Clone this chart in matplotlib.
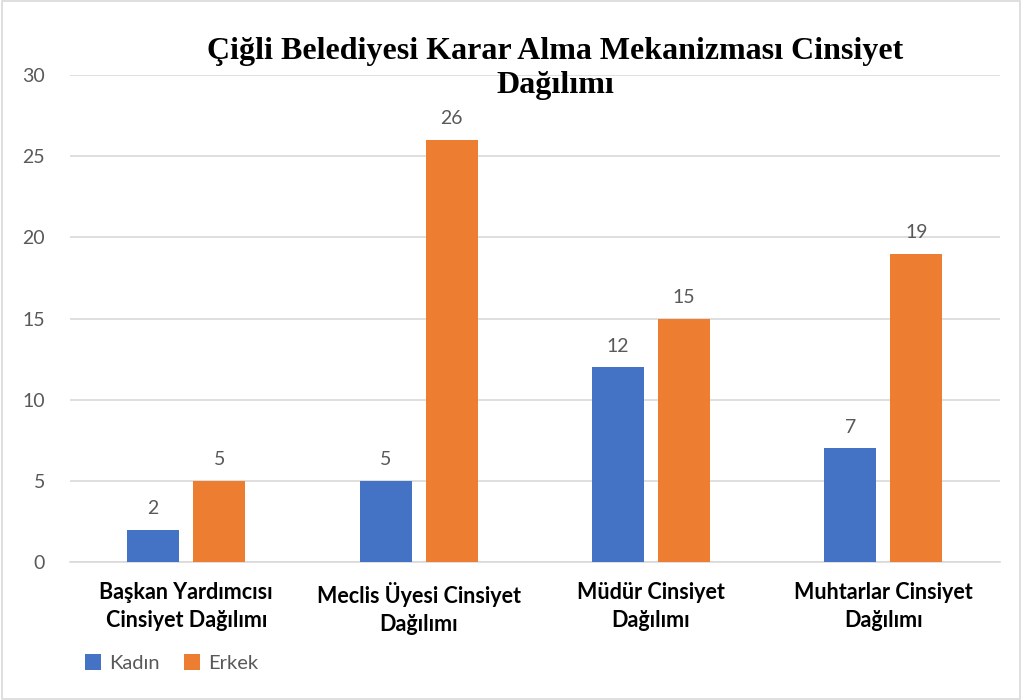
import matplotlib.pyplot as plt
import numpy as np
from matplotlib.patches import Rectangle

categories = ['Başkan Yardımcısı\nCinsiyet Dağılımı', 'Meclis Üyesi Cinsiyet\nDağılımı',
              'Müdür Cinsiyet\nDağılımı', 'Muhtarlar Cinsiyet\nDağılımı']
kadin = [2, 5, 12, 7]
erkek = [5, 26, 15, 19]
series_names = ['Kadın', 'Erkek']
title = 'Çiğli Belediyesi Karar Alma Mekanizması Cinsiyet\nDağılımı'

blue = '#4472C4'
orange = '#ED7D31'
gray = '#595959'

plt.rcParams['font.family'] = ['Lato', 'DejaVu Sans']

fig = plt.figure(figsize=(10.22, 7), dpi=100)
ax = fig.add_axes([0.0685, 0.197, 0.9095, 0.696])

x = np.arange(len(categories))
w = 0.224
off = 0.142
b1 = ax.bar(x - off, kadin, w, color=blue, label=series_names[0], zorder=3)
b2 = ax.bar(x + off, erkek, w, color=orange, label=series_names[1], zorder=3)

for bars in (b1, b2):
    for r in bars:
        ax.annotate(f'{int(r.get_height())}', (r.get_x() + r.get_width() / 2, r.get_height()),
                    xytext=(0, 9), textcoords='offset points', ha='center', va='bottom',
                    fontsize=14, color=gray)

ax.set_xlim(-0.5, 3.5)
ax.set_ylim(0, 30)
ax.set_yticks(range(0, 31, 5))
ax.yaxis.grid(True, color='#D9D9D9', linewidth=1.2, zorder=0)
for s in ['top', 'right', 'left']:
    ax.spines[s].set_visible(False)
ax.spines['bottom'].set_color('#D9D9D9')
ax.spines['bottom'].set_linewidth(1.2)
ax.tick_params(axis='both', length=0)
ax.tick_params(axis='y', labelsize=14, labelcolor=gray, pad=18)
ax.set_xticks(x)
ax.set_xticklabels(categories, fontsize=15.5, fontweight='bold', color='black', linespacing=1.45)
ax.tick_params(axis='x', pad=14)

fig.text(0.543, 0.902, title, ha='center', va='center', fontsize=23, fontweight='bold',
         family=['Liberation Serif'], linespacing=1.2)

ax.legend(loc='lower left', bbox_to_anchor=(0.065, 0.014), bbox_transform=fig.transFigure,
          ncol=2, frameon=False, fontsize=14.5, handlelength=0.8, handleheight=0.8,
          handletextpad=0.4, columnspacing=1.2, labelcolor=gray)

fig.patches.append(Rectangle((0.002, 0.002), 0.996, 0.996, transform=fig.transFigure,
                             fill=False, edgecolor='#D9D9D9', linewidth=1.2))

fig.savefig('out.png', dpi=100)
